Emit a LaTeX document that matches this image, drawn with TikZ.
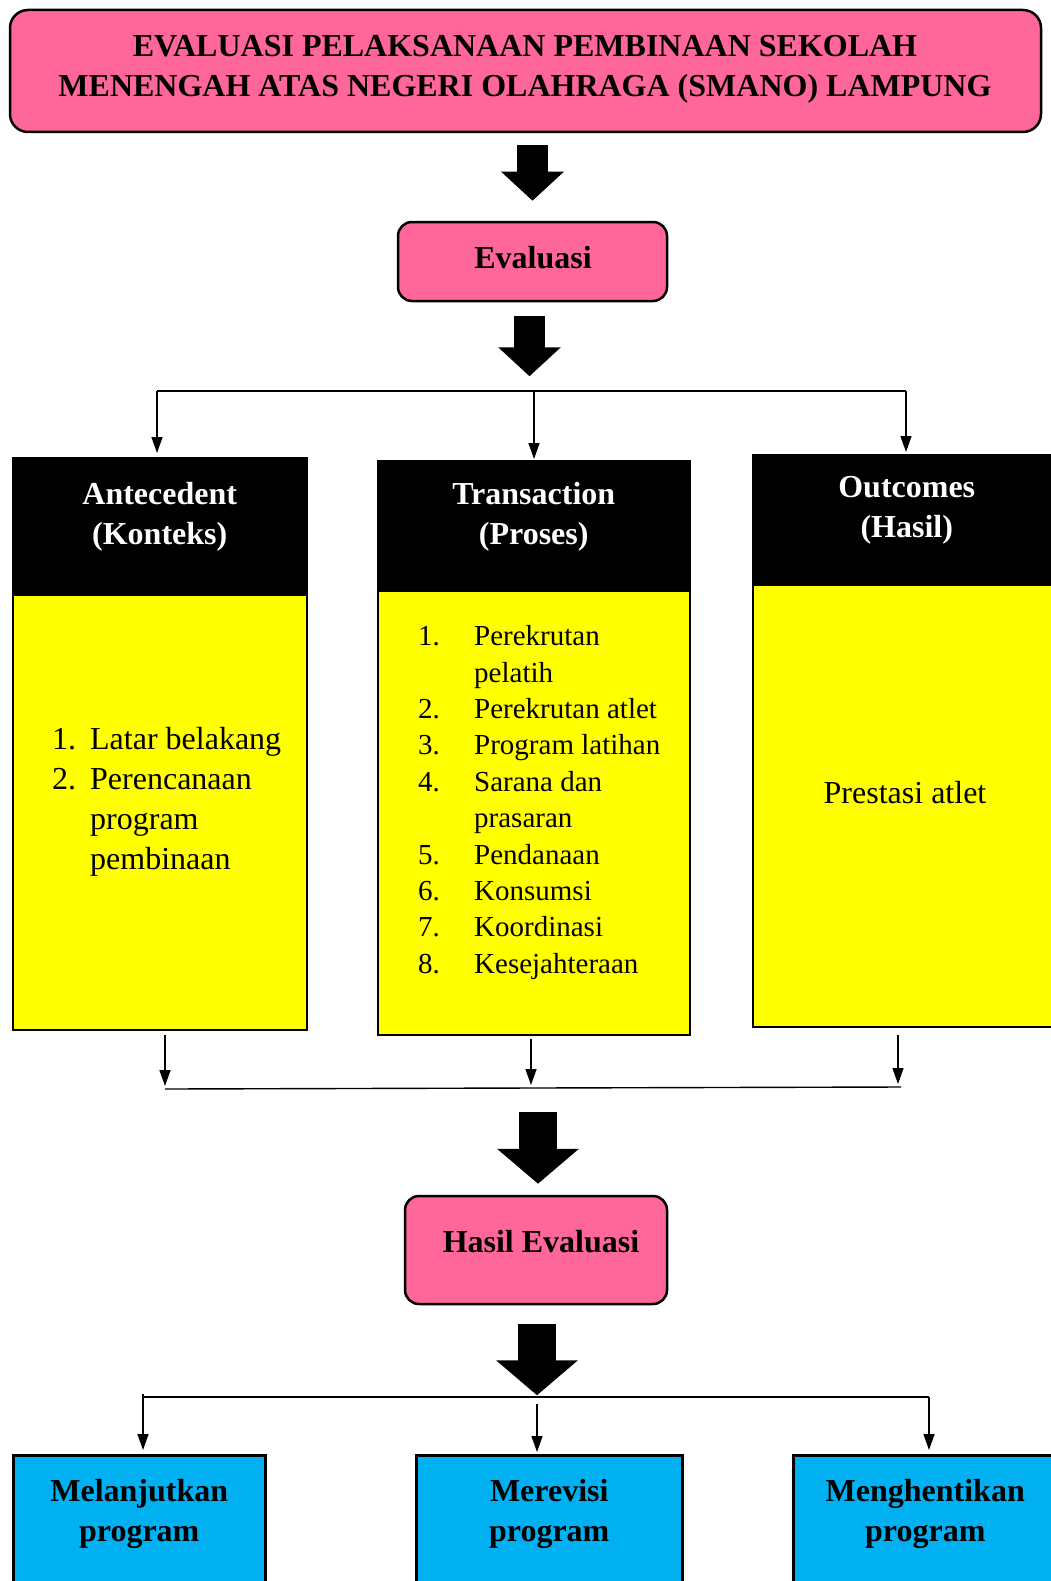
\documentclass[tikz,border=0pt]{standalone}
\usepackage{fontspec}
\setmainfont{Liberation Serif}
\usetikzlibrary{arrows.meta, positioning}
\definecolor{evPink}{HTML}{FF6699}
\definecolor{evYellow}{HTML}{FFFF00}
\definecolor{evBlue}{HTML}{00B0F0}

\begin{document}
\begin{tikzpicture}[x=1pt, y=-1pt,
        pinkbox/.style={draw=black, line width=2.5pt, fill=evPink, rounded corners=14pt, inner sep=0pt},
        headbox/.style={draw=black, line width=1.5pt, fill=black, anchor=north west, inner sep=0pt},
        listbox/.style={draw=black, line width=2.5pt, fill=evYellow, anchor=north west, inner sep=0pt},
        bluebox/.style={draw=black, line width=2.5pt, fill=evBlue, anchor=north west, inner sep=0pt},
        bigtxt/.style={font=\fontsize{32}{40}\selectfont\bfseries, align=center, inner sep=0pt, yshift=-3.5pt},
        plaintxt/.style={font=\fontsize{32}{40}\selectfont, align=left, inner sep=0pt, yshift=-3.5pt},
        fatA/.style={line width=31pt, -{Triangle[width=61pt, length=29pt]}},
        fatB/.style={line width=38pt, -{Triangle[width=80pt, length=35pt]}},
        thinline/.style={line width=1.4pt},
        thinarrow/.style={line width=1.4pt, -{Triangle[width=11pt, length=16pt]}}]
        \useasboundingbox (0,0) rectangle (1051,1581);
        \clip (0,0) rectangle (1051,1581);
        % title and evaluasi
        \node[pinkbox, rounded corners=18pt, minimum width=1031pt, minimum height=122pt] (title) at (525.5,71) {};
        \node[bigtxt] (titleTxt) at (525,66) {EVALUASI PELAKSANAAN PEMBINAAN SEKOLAH\\MENENGAH ATAS NEGERI OLAHRAGA (SMANO) LAMPUNG};
        \node[pinkbox, minimum width=269pt, minimum height=79pt] (eval) at (532.5,261.5) {};
        \node[bigtxt] (evalTxt) at (533,254) {Evaluasi};
        \draw[fatA] ([yshift=76pt]eval.north) -- ([yshift=20pt]eval.north);
        \draw[fatA] ([xshift=-3pt, yshift=-14pt]eval.south) -- ([xshift=-3pt, yshift=-74pt]eval.south);
        % three components
        \node[headbox, minimum width=294pt, minimum height=135pt] (anteHead) at (12,457) {};
        \node[listbox, minimum width=294pt, minimum height=435pt, below=0pt of anteHead] (anteBody) {};
        \node[headbox, minimum width=312pt, minimum height=128pt] (transHead) at (377,460) {};
        \node[listbox, minimum width=312pt, minimum height=444pt, below=0pt of transHead] (transBody) {};
        \node[headbox, minimum width=308pt, minimum height=128pt] (outHead) at (752,454) {};
        \node[listbox, minimum width=308pt, minimum height=442pt, below=0pt of outHead] (outBody) {};
        \node[bigtxt, text=white] (anteTitle) at ([yshift=-56pt]anteHead.north) {Antecedent\\(Konteks)};
        \node[bigtxt, text=white] (transTitle) at ([yshift=-53pt]transHead.north) {Transaction\\(Proses)};
        \node[bigtxt, text=white] (outTitle) at ([yshift=-53pt]outHead.north) {Outcomes\\(Hasil)};
        \node[plaintxt, anchor=west] (anteList) at (52,798) {\makebox[38pt][l]{1.}Latar belakang\\
          \makebox[38pt][l]{2.}Perencanaan\\\hspace*{38pt}program\\\hspace*{38pt}pembinaan};
        \node[plaintxt, font=\fontsize{29}{36.4}\selectfont, anchor=west] (transList) at (418,799) {\makebox[56pt][l]{1.}Perekrutan\\
          \hspace*{56pt}pelatih\\
          \makebox[56pt][l]{2.}Perekrutan atlet\\
          \makebox[56pt][l]{3.}Program latihan\\
          \makebox[56pt][l]{4.}Sarana dan\\
          \hspace*{56pt}prasaran\\
          \makebox[56pt][l]{5.}Pendanaan\\
          \makebox[56pt][l]{6.}Konsumsi\\
          \makebox[56pt][l]{7.}Koordinasi\\
          \makebox[56pt][l]{8.}Kesejahteraan};
        \node[plaintxt] (outList) at (905,789) {Prestasi atlet};
        % split to the components
        \coordinate (splitL) at (157,391);
        \coordinate (splitM) at (534,391);
        \coordinate (splitR) at (906,391);
        \draw[thinline] (splitL) -- (splitR);
        \draw[thinarrow] (splitL) -- ([yshift=4pt]anteHead.north -| splitL);
        \draw[thinarrow] (splitM) -- ([yshift=1pt]transHead.north -| splitM);
        \draw[thinarrow] (splitR) -- ([yshift=2pt]outHead.north -| splitR);
        % merge
        \coordinate (mergeL) at (165,1089);
        \coordinate (mergeM) at (531,1088);
        \coordinate (mergeR) at (898,1087);
        \draw[thinline] (mergeL) -- ([xshift=3pt]mergeR);
        \draw[thinarrow] ([yshift=-4pt]anteBody.south -| mergeL) -- ([yshift=3pt]mergeL);
        \draw[thinarrow] ([yshift=-3pt]transBody.south -| mergeM) -- ([yshift=3pt]mergeM);
        \draw[thinarrow] ([yshift=-7pt]outBody.south -| mergeR) -- ([yshift=3pt]mergeR);
        % hasil evaluasi
        \node[pinkbox, minimum width=262pt, minimum height=108pt] (hasil) at (536,1250) {};
        \node[bigtxt] (hasilTxt) at (541,1238) {Hasil Evaluasi};
        \draw[fatB] ([xshift=2pt, yshift=83pt]hasil.north) -- ([xshift=2pt, yshift=11pt]hasil.north);
        \draw[fatB] ([xshift=1pt, yshift=-19pt]hasil.south) -- ([xshift=1pt, yshift=-90pt]hasil.south);
        % decisions
        \node[bluebox, minimum width=252pt, minimum height=160pt] (melBox) at (12,1454) {};
        \node[bluebox, minimum width=266pt, minimum height=160pt] (revBox) at (415,1454) {};
        \node[bluebox, minimum width=264pt, minimum height=160pt] (stopBox) at (792,1454) {};
        \node[bigtxt] (melTxt) at ([yshift=-56.5pt]melBox.north) {Melanjutkan\\program};
        \node[bigtxt] (revTxt) at ([yshift=-56.5pt]revBox.north) {Merevisi\\program};
        \node[bigtxt] (stopTxt) at ([yshift=-56.5pt]stopBox.north) {Menghentikan\\program};
        \coordinate (outL) at (143,1397);
        \coordinate (outM) at (537,1404);
        \coordinate (outR) at (929,1397);
        \draw[thinline] (outL) -- (outR);
        \draw[thinarrow] ([yshift=3pt]outL) -- ([yshift=4pt]melBox.north -| outL);
        \draw[thinarrow] (outM) -- ([yshift=2pt]revBox.north -| outM);
        \draw[thinarrow] (outR) -- ([yshift=4pt]stopBox.north -| outR);
\end{tikzpicture}
\end{document}
